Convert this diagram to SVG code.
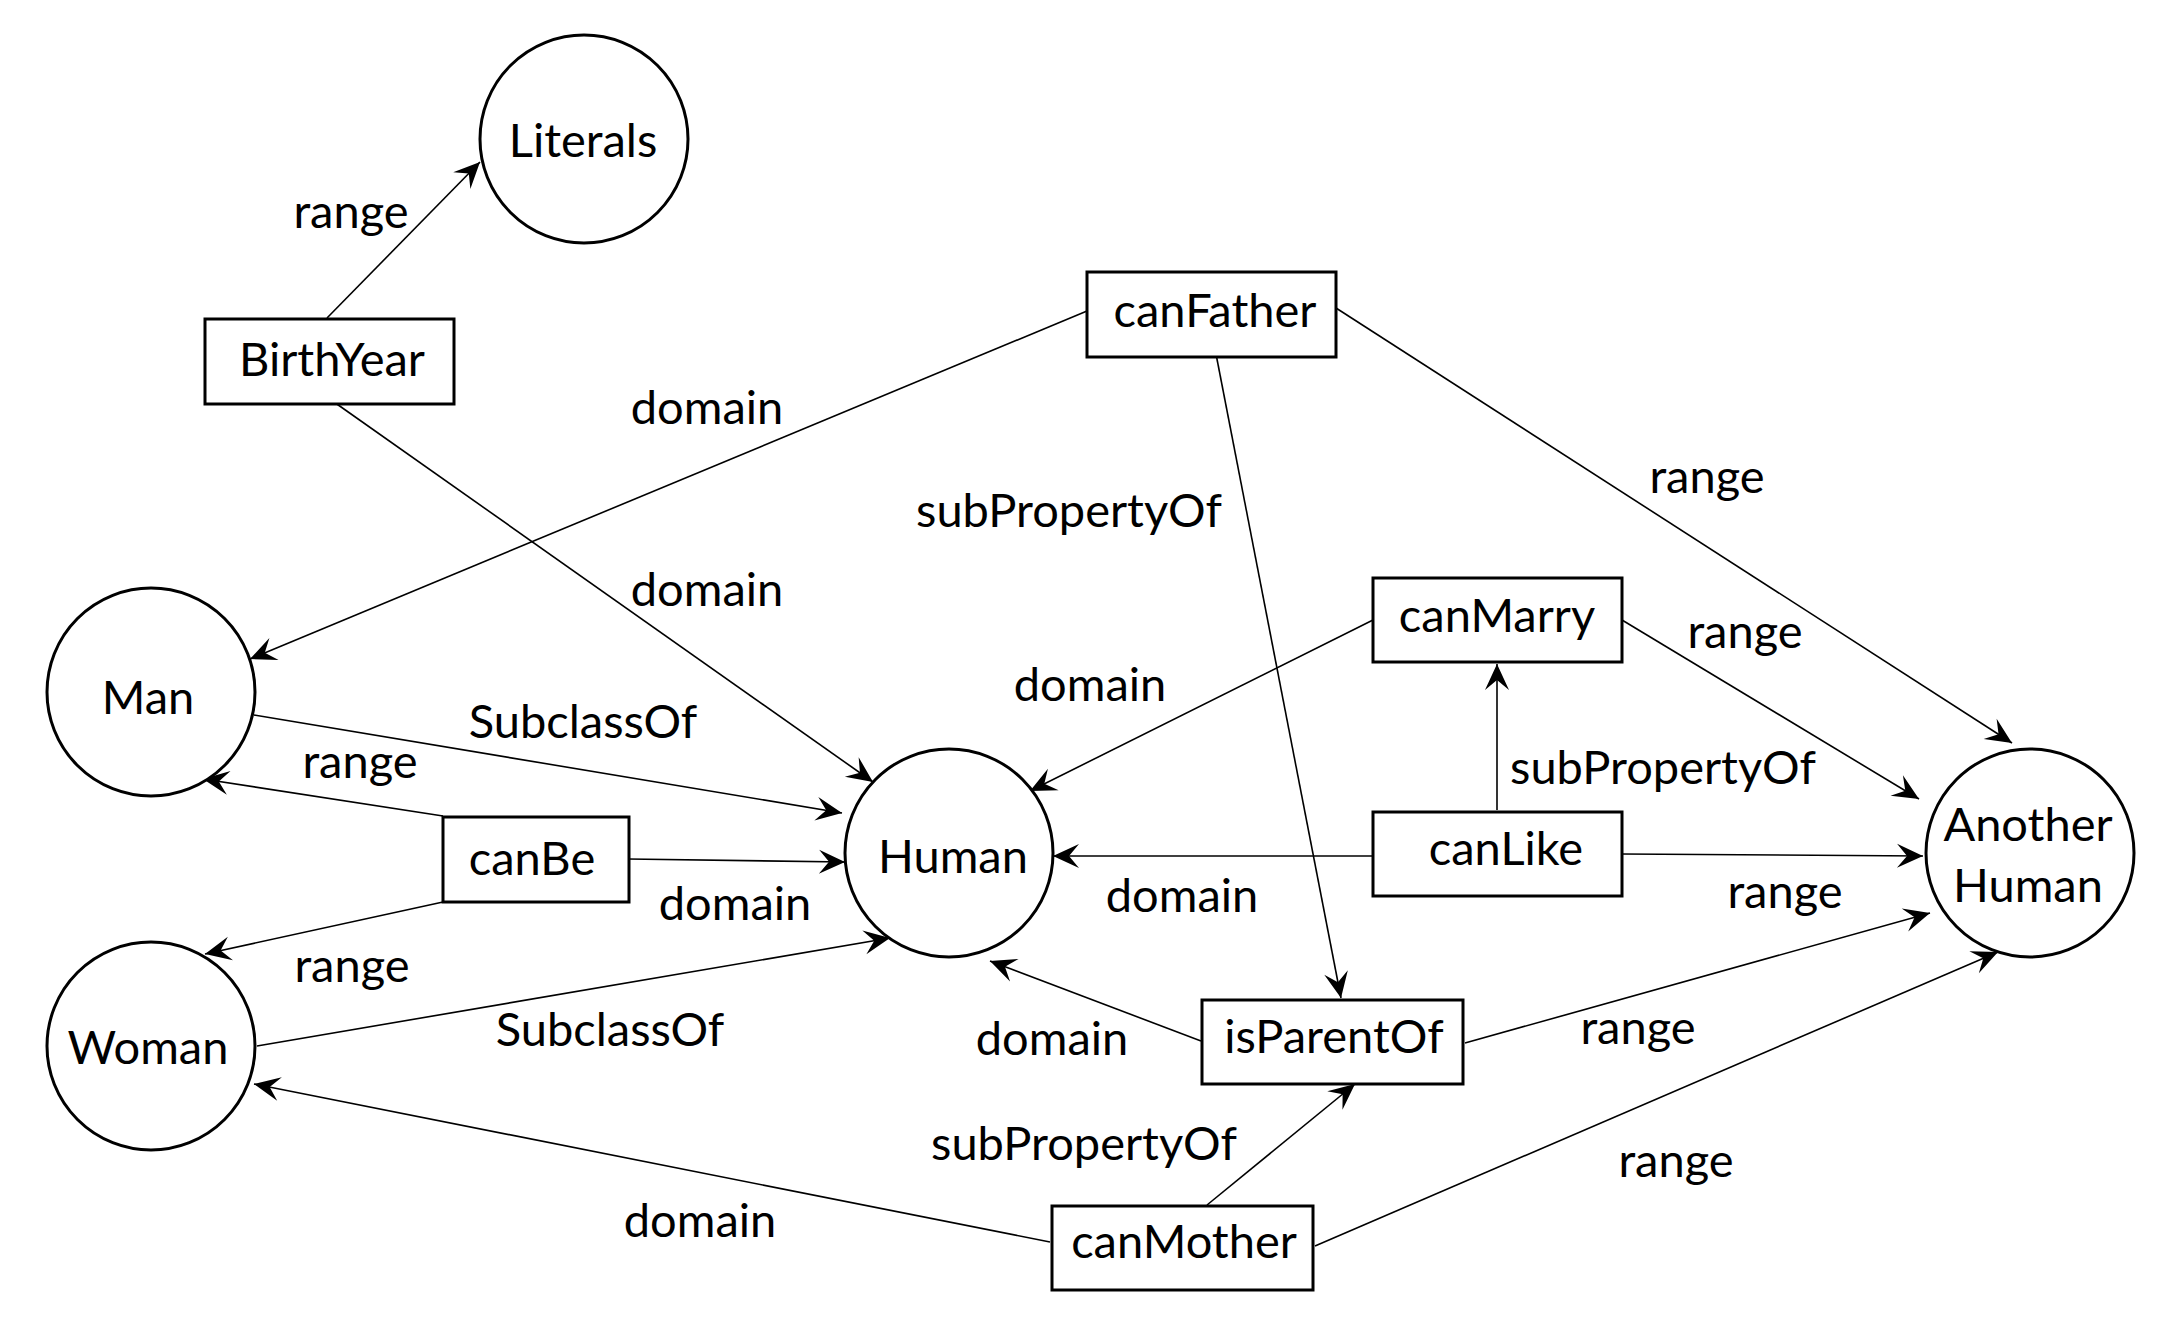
<svg xmlns="http://www.w3.org/2000/svg" width="2158" height="1320" viewBox="0 0 2158 1320">
<style>
.c{fill:#fff;stroke:#000;stroke-width:3}
.b{fill:#fff;stroke:#000;stroke-width:3}
.t{font-family:Lato,"Liberation Sans",sans-serif;font-size:47px;fill:#000;text-anchor:middle}
.e{stroke:#000;stroke-width:1.6;fill:none;marker-end:url(#arr)}
</style>
<defs>
<marker id="arr" viewBox="-27 -14 28 28" refX="0" refY="0" markerWidth="28" markerHeight="28" markerUnits="userSpaceOnUse" orient="auto">
<path d="M0,0 L-26,-12 L-16,0 L-26,12 Z" fill="#000"/>
</marker>
</defs>
<rect width="2158" height="1320" fill="#fff"/>
<g id="connectors">
<line class="e" x1="327" y1="318" x2="480" y2="162"/>
<line class="e" x1="1087" y1="311" x2="250" y2="659"/>
<line class="e" x1="334" y1="402" x2="873" y2="782"/>
<line class="e" x1="1216" y1="354" x2="1341" y2="998"/>
<line class="e" x1="1336" y1="308" x2="2012" y2="743"/>
<line class="e" x1="254" y1="715" x2="842" y2="813"/>
<line class="e" x1="443" y1="816" x2="203" y2="779"/>
<line class="e" x1="628" y1="859" x2="845" y2="862"/>
<line class="e" x1="443" y1="902" x2="205" y2="954"/>
<line class="e" x1="257" y1="1046" x2="890" y2="938"/>
<line class="e" x1="1050" y1="1242" x2="254" y2="1084"/>
<line class="e" x1="1373" y1="620" x2="1030" y2="791"/>
<line class="e" x1="1622" y1="620" x2="1919" y2="799"/>
<line class="e" x1="1497" y1="810" x2="1497" y2="664"/>
<line class="e" x1="1372" y1="856" x2="1053" y2="856"/>
<line class="e" x1="1622" y1="854" x2="1923" y2="856"/>
<line class="e" x1="1201" y1="1041" x2="990" y2="961"/>
<line class="e" x1="1465" y1="1043" x2="1930" y2="913"/>
<line class="e" x1="1207" y1="1205" x2="1355" y2="1084"/>
<line class="e" x1="1315" y1="1246" x2="1998" y2="952"/>
<g class="t">
<text x="351" y="228">range</text>
<text x="707" y="424">domain</text>
<text x="1707" y="493">range</text>
<text x="1069" y="527">subPropertyOf</text>
<text x="707" y="606">domain</text>
<text x="1090" y="701">domain</text>
<text x="1745" y="648">range</text>
<text x="583" y="738">SubclassOf</text>
<text x="360" y="778">range</text>
<text x="1663" y="784">subPropertyOf</text>
<text x="735" y="920">domain</text>
<text x="1182" y="912">domain</text>
<text x="1785" y="908">range</text>
<text x="352" y="982">range</text>
<text x="610" y="1046">SubclassOf</text>
<text x="1052" y="1055">domain</text>
<text x="1638" y="1044">range</text>
<text x="1084" y="1160">subPropertyOf</text>
<text x="1676" y="1177">range</text>
<text x="700" y="1237">domain</text>
</g>
</g>
<g id="Literals"><circle class="c" cx="584" cy="139" r="104"/><text class="t" x="583" y="157">Literals</text></g>
<g id="Man"><circle class="c" cx="151" cy="692" r="104"/><text class="t" x="148" y="714">Man</text></g>
<g id="Woman"><circle class="c" cx="151" cy="1046" r="104"/><text class="t" x="148" y="1064">Woman</text></g>
<g id="Human"><circle class="c" cx="949" cy="853" r="104"/><text class="t" x="953" y="873">Human</text></g>
<g id="AnotherHuman"><circle class="c" cx="2030" cy="853" r="104"/><text class="t" x="2028" y="841">Another</text><text class="t" x="2028" y="902">Human</text></g>
<g id="BirthYear"><rect class="b" x="205" y="319" width="249" height="85"/><text class="t" x="332" y="376">BirthYear</text></g>
<g id="canFather"><rect class="b" x="1087" y="272" width="249" height="85"/><text class="t" x="1215" y="327">canFather</text></g>
<g id="canMarry"><rect class="b" x="1373" y="578" width="249" height="84"/><text class="t" x="1497" y="632">canMarry</text></g>
<g id="canLike"><rect class="b" x="1373" y="812" width="249" height="84"/><text class="t" x="1506" y="865">canLike</text></g>
<g id="canBe"><rect class="b" x="443" y="817" width="186" height="85"/><text class="t" x="532" y="875">canBe</text></g>
<g id="isParentOf"><rect class="b" x="1202" y="1000" width="261" height="84"/><text class="t" x="1334" y="1053">isParentOf</text></g>
<g id="canMother"><rect class="b" x="1052" y="1206" width="261" height="84"/><text class="t" x="1184" y="1258">canMother</text></g>
</svg>
